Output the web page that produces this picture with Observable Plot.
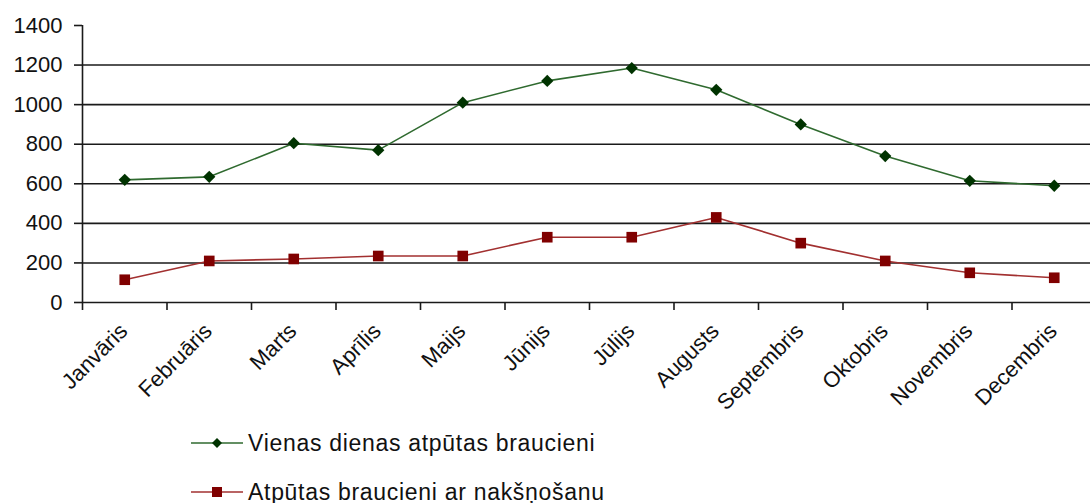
<!DOCTYPE html>
<html>
<head>
<meta charset="utf-8">
<script src="https://cdn.jsdelivr.net/npm/d3@7"></script>
<script src="https://cdn.jsdelivr.net/npm/@observablehq/plot@0.6"></script>
<style>
  html, body { margin: 0; padding: 0; background: #ffffff; }
  #wrap { width: 1090px; height: 503px; position: relative; font-family: "Liberation Sans", Arial, sans-serif; }
  .legend { position: absolute; left: 191px; top: 420px; }
  .row { display: flex; align-items: center; height: 24px; font-size: 23px; letter-spacing: 0.7px; color: #111; position: absolute; left: 0; white-space: nowrap; }
  .row svg { margin-right: 5px; }
</style>
</head>
<body>
<div id="wrap"></div>
<script>
const months = ["Janvāris","Februāris","Marts","Aprīlis","Maijs","Jūnijs","Jūlijs","Augusts","Septembris","Oktobris","Novembris","Decembris"];
const dayTrips = [620, 635, 805, 770, 1010, 1120, 1185, 1075, 900, 740, 615, 590];
const overnightTrips = [115, 210, 220, 235, 235, 330, 330, 430, 300, 210, 150, 125];
const seriesNames = ["Vienas dienas atpūtas braucieni", "Atpūtas braucieni ar nakšņošanu"];
const yTicks = [0, 200, 400, 600, 800, 1000, 1200, 1400];

const greenLine = "#2f6a2f", greenMark = "#003300";
const redLine = "#a23030", redMark = "#800000";

const green = months.map((m, i) => ({i, month: m, value: dayTrips[i]}));
const red = months.map((m, i) => ({i, month: m, value: overnightTrips[i]}));
const boundaries = d3.range(months.length + 1).map(k => k - 0.5);

const chart = Plot.plot({
  width: 1090,
  height: 420,
  marginLeft: 82,
  marginRight: 0,
  marginTop: 25,
  marginBottom: 118,
  style: {fontFamily: "Liberation Sans, Arial, sans-serif", fontSize: "22px", color: "#111", background: "#ffffff"},
  x: {domain: [-0.5, months.length - 0.5], range: [82, 1096]},
  y: {domain: [0, 1400]},
  marks: [
    Plot.ruleY(yTicks.filter(v => v > 0 && v < 1400), {stroke: "#1a1a1a", strokeWidth: 1.6}),
    Plot.ruleY([0], {stroke: "#1a1a1a", strokeWidth: 1.6}),
    Plot.ruleX([-0.5], {y1: 0, y2: 1400, stroke: "#1a1a1a", strokeWidth: 1.6}),
    Plot.axisY({ticks: yTicks, tickSize: 8, tickPadding: 12, fontSize: 22, tickFormat: d => String(d), stroke: "#1a1a1a", strokeWidth: 1.6, label: null}),
    Plot.axisX({ticks: boundaries, tickSize: 8, tickFormat: () => "", stroke: "#1a1a1a", strokeWidth: 1.6, label: null}),
    Plot.text(months, {x: (d, i) => i, y: () => 0, text: d => d, rotate: -45, textAnchor: "end", dx: -1, dy: 25, fontSize: 22, fill: "#111"}),
    Plot.line(green, {x: "i", y: "value", stroke: greenLine, strokeWidth: 1.6}),
    Plot.dot(green, {x: "i", y: "value", symbol: "square", rotate: 45, r: 4.9, fill: greenMark, stroke: "none"}),
    Plot.line(red, {x: "i", y: "value", stroke: redLine, strokeWidth: 1.6}),
    Plot.dot(red, {x: "i", y: "value", symbol: "square", r: 6, fill: redMark, stroke: "none"})
  ]
});

const wrap = document.getElementById("wrap");
wrap.appendChild(chart);

const legend = document.createElement("div");
legend.className = "legend";
const items = [
  {name: seriesNames[0], line: greenLine, mark: greenMark, shape: "diamond", top: 11},
  {name: seriesNames[1], line: redLine, mark: redMark, shape: "square", top: 60}
];
for (const it of items) {
  const row = document.createElement("div");
  row.className = "row";
  row.style.top = it.top + "px";
  const svg = d3.create("svg").attr("width", 52).attr("height", 24);
  svg.append("line").attr("x1", 0).attr("x2", 52).attr("y1", 12).attr("y2", 12).attr("stroke", it.line).attr("stroke-width", 1.6);
  if (it.shape === "diamond") {
    svg.append("path").attr("d", "M26,7L31,12L26,17L21,12Z").attr("fill", it.mark);
  } else {
    svg.append("rect").attr("x", 21).attr("y", 7).attr("width", 10).attr("height", 10).attr("fill", it.mark);
  }
  row.appendChild(svg.node());
  const span = document.createElement("span");
  span.textContent = it.name;
  row.appendChild(span);
  legend.appendChild(row);
}
wrap.appendChild(legend);
</script>
</body>
</html>
